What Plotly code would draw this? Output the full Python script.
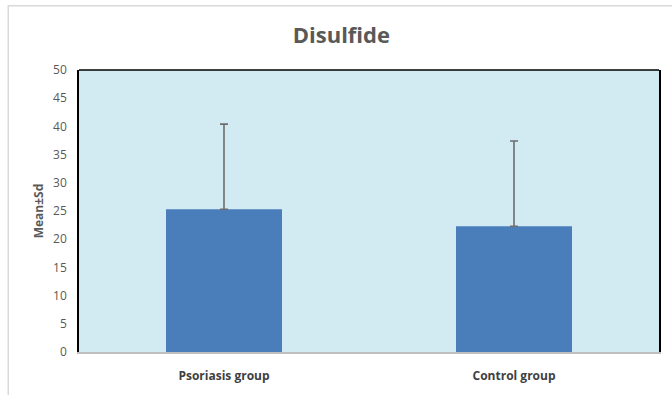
import plotly.graph_objects as go

categories = ["Psoriasis group", "Control group"]
means = [25.3, 22.3]
sds = [15.1, 15.1]
y_ticks = [0, 5, 10, 15, 20, 25, 30, 35, 40, 45, 50]

fig = go.Figure()
fig.add_trace(go.Bar(
    x=categories, y=means,
    marker=dict(color="#4a7ebb", line=dict(width=0)),
    width=0.4,
    error_y=dict(type="data", array=sds, symmetric=False, arrayminus=[0, 0],
                 color="#6d6d6d", thickness=1.6, width=4),
))

fig.update_layout(
    width=672, height=395,
    margin=dict(l=79, r=11, t=70, b=32),
    paper_bgcolor="white",
    plot_bgcolor="#d2eaf1",
    showlegend=False,
    title=dict(text="<b>Disulfide</b>", x=0.508, xanchor="center", y=0.91, yanchor="middle",
               font=dict(family="Open Sans", size=22, color="#595959")),
    font=dict(family="Open Sans", size=12, color="#595959"),
    bargap=0.6,
)
fig.update_yaxes(
    range=[0, 50], tickvals=y_ticks, showgrid=False, zeroline=False,
    showline=True, linecolor="black", linewidth=1.5, mirror=True,
    ticks="", ticklabelstandoff=8,
    title=dict(text="<b>Mean±Sd</b>", font=dict(size=12, color="#595959"), standoff=7),
    tickfont=dict(size=12, color="#595959"),
)
fig.update_xaxes(
    showgrid=False, showline=True, linecolor="#bfbfbf", linewidth=1.5,
    ticks="", tickfont=dict(size=12, color="#404040"), ticklabelstandoff=12,
    tickvals=categories, ticktext=["<b>" + c + "</b>" for c in categories],
)
fig.add_shape(type="line", xref="paper", yref="paper", x0=0, x1=1, y0=1, y1=1,
              line=dict(color="black", width=1.5))
# outer frame (bottom edge falls outside the page)
fig.add_shape(type="rect", xref="paper", yref="paper",
              x0=-71 / 582, x1=1 + 20 / 582, y0=-60 / 285, y1=1 + 65 / 285,
              line=dict(color="#d9d9d9", width=1.5))
fig.write_html("out.html", config={"displayModeBar": False},
               post_script="document.body.style.margin='0';document.body.style.padding='0';")
